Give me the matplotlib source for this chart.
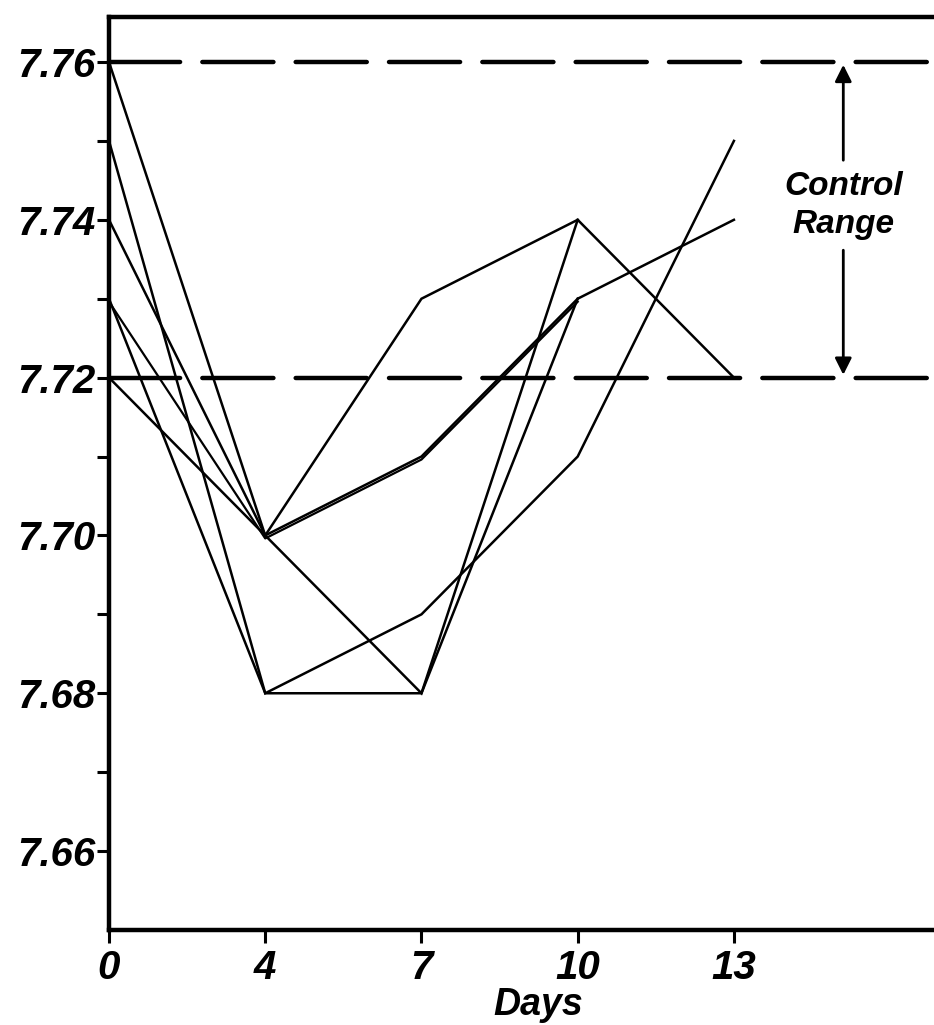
import matplotlib.pyplot as plt
import matplotlib.transforms as mtransforms
from matplotlib.ticker import FixedLocator
import numpy as np

# ── data ───────────────────────────────────────────────────────────────────
days = ['0', '4', '7', '10', '13']
series_1 = [7.76, 7.70, 7.73, 7.74, 7.72]
series_2 = [7.75, 7.68, 7.69, 7.71, 7.75]
series_3 = [7.74, 7.70, 7.71, 7.73, 7.74]
series_4 = [7.73, 7.70, 7.71, 7.73, np.nan]
series_5 = [7.73, 7.68, 7.68, 7.73, np.nan]
series_6 = [7.72, 7.70, 7.68, 7.74, np.nan]
control_low, control_high = 7.72, 7.76

FONT = 'Liberation Sans'

fig = plt.figure(figsize=(9.34, 10.25), dpi=100)
fig.patch.set_facecolor('white')
# axes runs off the right edge of the picture, like the cropped scan
ax = fig.add_axes([0.1167, 0.0927, 0.92, 0.8907])

x = np.arange(len(days))
for s in [series_1, series_2, series_3, series_5, series_6]:
    ax.plot(x, s, color='black', lw=1.8, solid_joinstyle='miter', zorder=3)
# the twin series is drawn as a double line
shift = mtransforms.offset_copy(ax.transData, fig=fig, x=0, y=-3, units='dots')
ax.plot(x, series_4, color='black', lw=1.6, transform=shift, zorder=3)

# control range (dashed)
for yv in (control_low, control_high):
    ax.axhline(yv, color='black', lw=3.2, dashes=(16, 5), dash_capstyle='round', zorder=2)

ax.set_xlim(0, 5.5)
ax.set_ylim(7.65, 7.7657)

ax.xaxis.set_major_locator(FixedLocator(x))
ax.set_xticklabels(days)
ax.yaxis.set_major_locator(FixedLocator([7.66, 7.68, 7.70, 7.72, 7.74, 7.76]))
ax.yaxis.set_minor_locator(FixedLocator([7.67, 7.69, 7.71, 7.73, 7.75]))
ax.set_yticklabels(['7.66', '7.68', '7.70', '7.72', '7.74', '7.76'])

ax.tick_params(axis='both', which='both', direction='out', length=9, width=2.2, color='black')
ax.tick_params(axis='y', pad=1)
ax.tick_params(axis='x', pad=5)
for lab in ax.get_xticklabels() + ax.get_yticklabels():
    lab.set_fontfamily(FONT)
    lab.set_fontsize(29)
    lab.set_fontweight('bold')
    lab.set_fontstyle('italic')

for side in ('left', 'bottom', 'top'):
    ax.spines[side].set_linewidth(3.2)
ax.spines['right'].set_visible(False)

ax.set_xlabel('Days', fontfamily=FONT, fontsize=27, fontweight='bold',
              fontstyle='italic', labelpad=0)

# "Control Range" with arrows up and down
ax.text(4.7, 7.7418, 'Control\nRange', ha='center', va='center', fontfamily=FONT,
        fontsize=24, fontweight='bold', fontstyle='italic', linespacing=1.3)
ax.annotate('', xy=(4.7, control_high), xytext=(4.7, 7.7472),
            arrowprops=dict(arrowstyle='-|>', color='black', lw=2.0, mutation_scale=25))
ax.annotate('', xy=(4.7, control_low), xytext=(4.7, 7.7365),
            arrowprops=dict(arrowstyle='-|>', color='black', lw=2.0, mutation_scale=25))

fig.savefig('out.png', dpi=100, facecolor='white')
